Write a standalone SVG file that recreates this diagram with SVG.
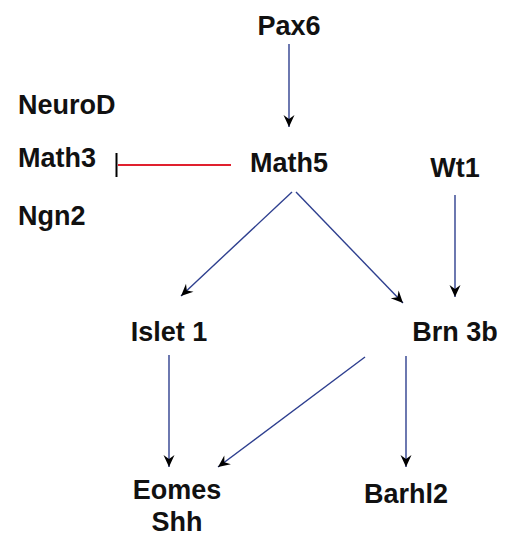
<svg xmlns="http://www.w3.org/2000/svg" width="507" height="537" viewBox="0 0 507 537">
  <style>
    .lbl { font-family: "Liberation Sans", Arial, sans-serif; font-weight: bold; font-size: 27px; fill: #111; }
    .mid { text-anchor: middle; }
    .act { stroke: #2E3F8F; stroke-width: 1.4; fill: none; marker-end: url(#arrow); }
    .inh { stroke: #E0202E; stroke-width: 2.2; fill: none; }
  </style>
  <defs>
    <marker id="arrow" markerUnits="userSpaceOnUse" markerWidth="16" markerHeight="14" viewBox="-13 -7 14 14" refX="0" refY="0" orient="auto">
      <path d="M0,0 L-12,-5.5 L-8,0 L-12,5.5 Z" fill="#000"/>
    </marker>
  </defs>
  <rect width="507" height="537" fill="#fff"/>

  <g id="connectors">
    <line class="act" x1="289" y1="44" x2="289" y2="127"/>
    <line class="inh" x1="118" y1="165" x2="231" y2="165"/>
    <line x1="116.5" y1="153" x2="116.5" y2="177" stroke="#000" stroke-width="2"/>
    <line class="act" x1="292" y1="192" x2="181" y2="296"/>
    <line class="act" x1="296" y1="192" x2="403" y2="303"/>
    <line class="act" x1="455" y1="195" x2="455" y2="297"/>
    <line class="act" x1="169" y1="355" x2="169" y2="467"/>
    <line class="act" x1="365" y1="357" x2="218" y2="467"/>
    <line class="act" x1="406" y1="356" x2="406" y2="467"/>
  </g>

  <g id="pax6"><text class="lbl mid" x="289" y="35">Pax6</text></g>
  <g id="math5"><text class="lbl mid" x="289" y="172">Math5</text></g>
  <g id="neurod"><text class="lbl" x="18" y="114">NeuroD</text></g>
  <g id="math3"><text class="lbl" x="18" y="167">Math3</text></g>
  <g id="ngn2"><text class="lbl" x="18" y="225">Ngn2</text></g>
  <g id="wt1"><text class="lbl mid" x="455" y="177">Wt1</text></g>
  <g id="islet1"><text class="lbl mid" x="169" y="341">Islet 1</text></g>
  <g id="brn3b"><text class="lbl mid" x="455" y="341">Brn 3b</text></g>
  <g id="eomes-shh">
    <text class="lbl mid" x="177" y="499">Eomes</text>
    <text class="lbl mid" x="177" y="531">Shh</text>
  </g>
  <g id="barhl2"><text class="lbl mid" x="406" y="503">Barhl2</text></g>
</svg>
